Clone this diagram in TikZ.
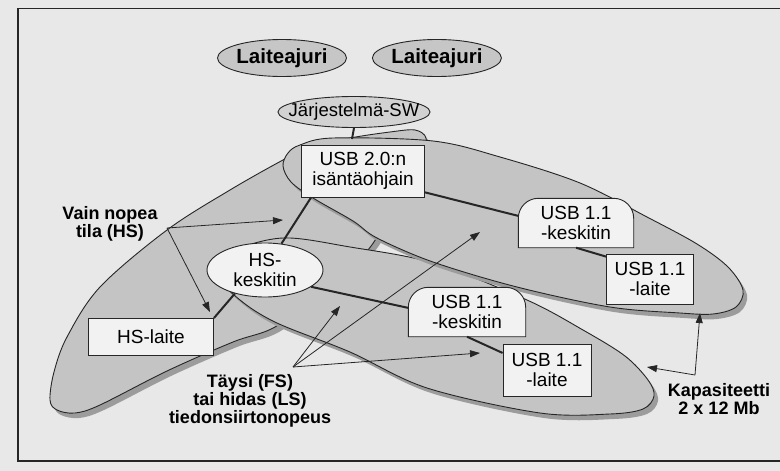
\documentclass[tikz,border=0pt]{standalone}
\usepackage{fontspec}
\setmainfont{Liberation Sans}
\definecolor{PageGrey}{HTML}{E8E8E8}
\definecolor{TierGrey}{HTML}{C4C4C4}
\definecolor{ShadeGrey}{HTML}{9C9C9C}
\definecolor{BoxFill}{HTML}{F2F2F2}
\definecolor{DriverGrey}{HTML}{C6C6C6}
\definecolor{SWGrey}{HTML}{D2D2D2}
\definecolor{Ink}{HTML}{262626}
\usetikzlibrary{positioning,shapes.geometric,arrows.meta}
\pgfdeclarelayer{tiers}
\pgfdeclarelayer{plates}
\pgfsetlayers{tiers,plates,main}
\newcommand{\boxfont}{\fontsize{19pt}{20pt}\selectfont}
\newcommand{\swfont}{\fontsize{18.5pt}{20pt}\selectfont}
\newcommand{\drvfont}{\fontsize{20.5pt}{22pt}\selectfont\bfseries}
\newcommand{\tagfont}{\fontsize{18pt}{18pt}\selectfont\bfseries}
% outlines of the three speed tiers (pixel grid, y down)
\newcommand{\tierHS}{plot[smooth cycle, tension=0.55] coordinates {(50,400) (54,372) (67,337) (100,287) (167,230) (230,190) (283,160) (310,147) (350,138) (390,132) (415,130) (426,138) (422,156) (402,198) (378,236) (362,256) (320,292) (275,327) (233,342) (167,371) (100,405) (75,413) (57,410)}}
\newcommand{\tierHost}{plot[smooth cycle, tension=0.55] coordinates {(283,166) (288,153) (300,145) (333,138) (433,141) (500,157) (580,183) (647,217) (697,244) (728,267) (743,290) (736,307) (713,314) (680,313) (610,307) (517,287) (433,262) (377,238) (353,221) (313,198) (291,182)}}
\newcommand{\tierFS}{plot[smooth cycle, tension=0.55] coordinates {(218,275) (232,252) (283,238) (350,247) (433,263) (527,300) (583,330) (625,356) (648,380) (654,396) (643,409) (610,414) (540,413) (427,388) (350,352) (277,323) (240,300)}}
\begin{document}
\begin{tikzpicture}[x=1pt, y=-1pt,
    tier/.style={fill=TierGrey, draw=Ink, line width=0.9pt},
    tiershade/.style={fill=ShadeGrey, shift={(4,5)}},
    box/.style={draw=Ink, fill=BoxFill, line width=0.9pt, inner sep=0pt, align=center, font=\boxfont},
    hub/.style={inner sep=0pt, align=center, font=\boxfont},
    plate/.style={draw=Ink, fill=BoxFill, line width=0.9pt, rounded corners=20pt},
    driver/.style={ellipse, draw=Ink, fill=DriverGrey, line width=0.9pt, inner sep=0pt, minimum width=129pt, minimum height=37pt, font=\drvfont},
    tag/.style={align=center, font=\tagfont, inner sep=0pt},
    link/.style={draw=Ink, line width=2pt},
    pointer/.style={draw=Ink, line width=0.8pt, -{Triangle[length=10pt,width=7pt]}}]
  \begin{pgfonlayer}{tiers}
    \path[use as bounding box, fill=PageGrey] (0,0) rectangle (780,471);
    \draw[Ink, line width=1.3pt] (18,8.5) rectangle (800,461);
    \fill[tiershade] \tierHS;
    \draw[tier] \tierHS;
    \fill[tiershade] \tierFS;
    \draw[tier] \tierFS;
    \fill[tiershade] \tierHost;
    \draw[tier] \tierHost;
  \end{pgfonlayer}

  % software
  \node[driver] (drv1) at (282,58) {Laiteajuri};
  \node[driver, right=25pt of drv1] (drv2) {Laiteajuri};
  \node[ellipse, draw=Ink, fill=SWGrey, line width=0.9pt, inner xsep=-11.5pt, inner ysep=0pt, minimum height=31pt, font=\swfont] (sw) at (354,112) {Järjestelmä-SW};

  % hardware
  \node[box, minimum width=123pt, minimum height=52pt] (host) at (363,171) {USB 2.0:n\\isäntäohjain};
  \node[box, ellipse, minimum width=116pt, minimum height=54pt] (hsk) at (265,270) {HS-\\keskitin};
  \node[box, minimum width=125pt, minimum height=37pt] (hsdev) at (151,337) {HS-laite};
  \node[hub, minimum width=115pt, minimum height=49pt] (hubU) at (576,223) {USB 1.1\\-keskitin};
  \node[box, minimum width=87pt, minimum height=50pt] (devU) at (650,279) {USB 1.1\\-laite};
  \node[hub, minimum width=117pt, minimum height=49pt] (hubL) at (467,312) {USB 1.1\\-keskitin};
  \node[box, minimum width=88pt, minimum height=52pt] (devL) at (547,370) {USB 1.1\\-laite};
  \begin{pgfonlayer}{plates}
    \foreach \h in {hubU,hubL}
      \draw[plate] (\h.south west) -- (\h.north west) -- (\h.north east) [sharp corners] -- (\h.south east) -- cycle;
  \end{pgfonlayer}

  % cables
  \coordinate (swtick) at (352,139);
  \draw[link] (sw.south) -- (swtick);
  \draw[link] (host.207) -- (hsk.58);
  \draw[link] (host.-19) -- (hubU.173);
  \draw[link] (hubU.south) -- (devU.153);
  \draw[link] (hsk.218) -- (hsdev.north east);
  \draw[link] (hsk.-20) -- (hubL.176);
  \draw[link] (hubL.south) -- (devL.159);

  % callouts
  \node[tag] (vain) at (110,224) {Vain nopea\\tila (HS)};
  \coordinate (vainfork) at (167,228);
  \coordinate (vainA) at (283,220);
  \coordinate (vainB) at (210,312);
  \draw[pointer] (vainfork) -- (vainA);
  \draw[pointer] (vainfork) -- (vainB);

  \node[tag] (tays) at (250,401) {Täysi (FS)\\tai hidas (LS)\\tiedonsiirtonopeus};
  \coordinate (taysfork) at (293,367);
  \coordinate (taysA) at (340,306);
  \coordinate (taysB) at (480,232);
  \coordinate (taysC) at (480,353);
  \foreach \t in {taysA,taysB,taysC}
    \draw[pointer] (taysfork) -- (\t);

  \node[tag] (kap) at (719,399) {Kapasiteetti\\2 x 12 Mb};
  \coordinate (kapfork) at (695,375);
  \coordinate (kapA) at (700,313);
  \coordinate (kapB) at (647,367);
  \draw[pointer] (kapfork) -- (kapA);
  \draw[pointer] (kapfork) -- (kapB);
\end{tikzpicture}
\end{document}
